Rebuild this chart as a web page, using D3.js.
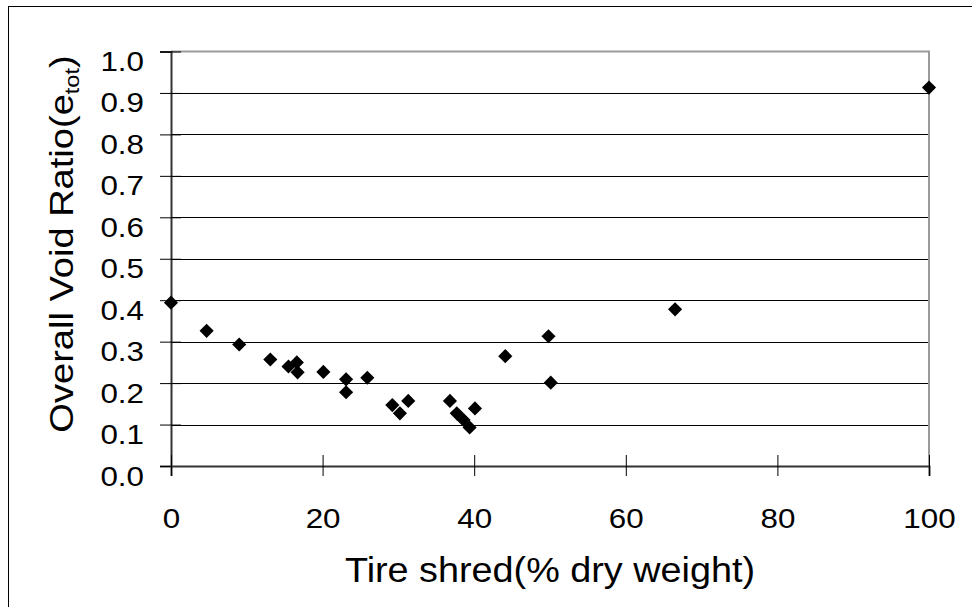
<!DOCTYPE html>
<html>
<head>
<meta charset="utf-8">
<script src="https://cdn.jsdelivr.net/npm/d3@7"></script>
<style>
  html, body { margin: 0; padding: 0; background: #fff; }
  svg { display: block; font-family: "Liberation Sans", Arial, sans-serif; }
</style>
</head>
<body>
<svg id="chart" width="972" height="607"></svg>
<script>
// ---- data ----
const tireShred = [0, 4.7, 9.0, 13.1, 15.5, 16.6, 16.7, 20.1, 23.1, 23.1, 25.9,
                   29.2, 30.2, 31.3, 36.8, 37.7, 38.6, 39.4, 40.1, 44.1, 49.8, 50.1, 66.5, 100];
const voidRatio = [0.394, 0.326, 0.293, 0.257, 0.240, 0.250, 0.226, 0.227, 0.209, 0.178, 0.213,
                   0.147, 0.127, 0.157, 0.157, 0.127, 0.111, 0.093, 0.139, 0.265, 0.313, 0.201, 0.378, 0.913];
const xTicks = [0, 20, 40, 60, 80, 100];
const yTicks = [0, 0.1, 0.2, 0.3, 0.4, 0.5, 0.6, 0.7, 0.8, 0.9, 1.0];
const xTitle = "Tire shred(% dry weight)";
const yTitleMain = "Overall Void Ratio(e";
const yTitleSub = "tot";
const yTitleEnd = ")";

// ---- layout ----
const svg = d3.select("#chart");
const L = 171, R = 929, T = 51.5, B = 466;
const x = d3.scaleLinear().domain([0, 100]).range([L, R]);
const y = d3.scaleLinear().domain([0, 1]).range([B, T]);

// outer frame
svg.append("rect").attr("x", 8.5).attr("y", 6.5).attr("width", 1200).attr("height", 1200)
  .attr("fill", "none").attr("stroke", "#000").attr("stroke-width", 1);

// gridlines
svg.append("g").selectAll("line").data(yTicks.filter(d => d > 0 && d < 1)).join("line")
  .attr("x1", L).attr("x2", R).attr("y1", d => Math.round(y(d)) + 0.5).attr("y2", d => Math.round(y(d)) + 0.5)
  .attr("stroke", "#000").attr("stroke-width", 1);

// plot frame: top & right in gray
svg.append("path")
  .attr("d", `M${L},${T} H${R} V${B}`)
  .attr("fill", "none").attr("stroke", "#9a9a9a").attr("stroke-width", 2);

const sx = 1.1;

// y axis
const gy = svg.append("g").attr("transform", `translate(${L},0)`)
  .call(d3.axisLeft(y).tickValues(yTicks).tickFormat(d3.format(".1f")).tickSize(11).tickPadding(0));
gy.select(".domain").attr("stroke", "#333").attr("stroke-width", 2);
gy.selectAll(".tick line").attr("x1", 10).attr("stroke", "#000");
gy.selectAll(".tick text")
  .attr("x", -27 / sx).attr("dy", null).attr("y", 19)
  .attr("transform", `scale(${sx},1)`)
  .attr("font-size", 28.5).attr("fill", "#000")
  .attr("font-family", "Liberation Sans, Arial, sans-serif");

// x axis
const gx = svg.append("g").attr("transform", `translate(0,${B})`)
  .call(d3.axisBottom(x).tickValues(xTicks).tickFormat(d3.format("d")).tickSize(10).tickPadding(0));
gx.select(".domain").attr("stroke", "#333").attr("stroke-width", 2);
gx.selectAll(".tick line").attr("y1", -11).attr("stroke", "#000");
gx.selectAll(".tick text")
  .attr("y", 62).attr("dy", null)
  .attr("transform", `scale(${sx},1)`)
  .attr("font-size", 28.5).attr("fill", "#000")
  .attr("font-family", "Liberation Sans, Arial, sans-serif");

// points (diamonds)
const pts = tireShred.map((v, i) => ({ x: v, y: voidRatio[i] }));
const sym = d3.symbol().type(d3.symbolSquare).size(100);
svg.append("g").selectAll("path").data(pts).join("path")
  .attr("d", sym)
  .attr("transform", d => `translate(${x(d.x)},${y(d.y)}) rotate(45)`)
  .attr("fill", "#000");

// x title
svg.append("text")
  .attr("transform", `translate(${(L + R) / 2},582) scale(1.08,1)`)
  .attr("text-anchor", "middle").attr("font-size", 35).attr("fill", "#000")
  .text(xTitle);

// y title
const yt = svg.append("text")
  .attr("transform", `translate(73,244) rotate(-90) scale(1.12,1)`)
  .attr("text-anchor", "middle").attr("font-size", 34).attr("fill", "#000");
yt.append("tspan").text(yTitleMain);
yt.append("tspan").attr("font-size", 21).attr("dy", 6).text(yTitleSub);
yt.append("tspan").attr("dy", -6).text(yTitleEnd);
</script>
</body>
</html>
